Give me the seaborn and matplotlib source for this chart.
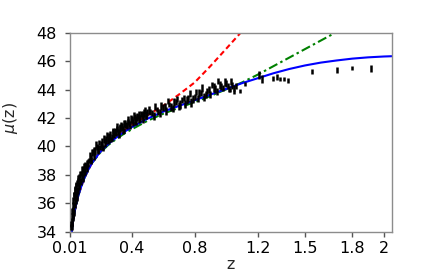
import matplotlib
matplotlib.use("Agg")
import matplotlib.pyplot as plt
import seaborn as sns

# model curves
z_model = [0.01, 0.015, 0.02, 0.03, 0.045, 0.06, 0.08, 0.1, 0.125, 0.15, 0.2, 0.25,
           0.3, 0.35, 0.4, 0.45, 0.5, 0.6, 0.7, 0.8, 0.9, 1.0, 1.1, 1.2, 1.3, 1.4,
           1.5, 1.6, 1.7, 1.8, 1.9, 2.0, 2.05]
mu_blue = [32.5, 33.35, 33.95, 34.85, 35.75, 36.45, 37.15, 37.75, 38.35, 38.85, 39.6, 40.15,
           40.6, 41.0, 41.35, 41.65, 41.95, 42.45, 42.85, 43.25, 43.65, 44.05, 44.45, 44.8,
           45.15, 45.45, 45.7, 45.9, 46.05, 46.18, 46.27, 46.33, 46.35]
mu_green = [32.5, 33.35, 33.95, 34.85, 35.75, 36.45, 37.15, 37.75, 38.35, 38.85, 39.55, 40.08,
            40.5, 40.88, 41.2, 41.5, 41.8, 42.3, 42.72, 43.12, 43.55, 44.02, 44.5, 45.05,
            45.65, 46.25, 46.85, 47.45, 48.05, 48.65, 49.25, 49.85, 50.15]
z_red = [0.01, 0.015, 0.02, 0.03, 0.045, 0.06, 0.08, 0.1, 0.125, 0.15, 0.2, 0.25,
         0.3, 0.35, 0.4, 0.45, 0.5, 0.6, 0.7, 0.8, 0.9, 1.0, 1.1, 1.2]
mu_red = [32.5, 33.35, 33.95, 34.85, 35.75, 36.45, 37.15, 37.75, 38.35, 38.85, 39.62, 40.2,
          40.7, 41.1, 41.5, 41.85, 42.2, 42.85, 43.65, 44.5, 45.65, 46.87, 48.1, 49.4]

# observed points with error bars
z_obs = [0.012, 0.014, 0.016, 0.018, 0.020, 0.022, 0.024, 0.026, 0.028, 0.030, 0.033, 0.036,
         0.039, 0.042, 0.045, 0.048, 0.052, 0.056, 0.060, 0.065, 0.070, 0.075, 0.080, 0.086,
         0.092, 0.098,
         0.017, 0.021, 0.025, 0.029, 0.032, 0.035, 0.038, 0.041, 0.044, 0.047, 0.050, 0.054,
         0.058, 0.063, 0.068, 0.073, 0.078, 0.084, 0.090, 0.096, 0.102,
         0.11, 0.12, 0.13, 0.14, 0.15, 0.16, 0.17, 0.18, 0.19, 0.20, 0.21, 0.22, 0.23, 0.24,
         0.25, 0.26, 0.27, 0.28, 0.29, 0.30, 0.31, 0.32, 0.33, 0.34, 0.35, 0.36, 0.37, 0.38,
         0.39, 0.40, 0.41, 0.42, 0.43, 0.44, 0.45, 0.46, 0.47, 0.48, 0.49, 0.50,
         0.105, 0.115, 0.125, 0.135, 0.145, 0.155, 0.165, 0.175, 0.185, 0.195, 0.205, 0.215,
         0.225, 0.235, 0.245, 0.255, 0.265, 0.275, 0.285, 0.295, 0.305, 0.315, 0.325, 0.335,
         0.345, 0.355, 0.365, 0.375, 0.385, 0.395, 0.405, 0.415, 0.425, 0.435, 0.445, 0.455,
         0.465, 0.475, 0.485, 0.495,
         0.52, 0.54, 0.56, 0.58, 0.60, 0.62, 0.64, 0.66, 0.68, 0.70, 0.72, 0.74, 0.76, 0.78,
         0.80, 0.82, 0.84, 0.86, 0.88, 0.90, 0.92, 0.94, 0.96, 0.98, 1.00, 1.02, 1.04, 1.06,
         0.51, 0.53, 0.55, 0.57, 0.59, 0.61, 0.63, 0.65, 0.67, 0.69, 0.71, 0.73, 0.75, 0.77,
         0.79, 0.81, 0.83, 0.85, 0.87, 0.89, 0.91, 0.93, 0.95, 0.97, 0.99, 1.01, 1.03, 1.05,
         1.025, 1.05, 1.09, 1.12, 1.208, 1.229, 1.30, 1.32, 1.34, 1.37, 1.39,
         1.545, 1.70, 1.80, 1.917]
mu_obs = [33.15, 33.68, 33.67, 34.33, 34.31, 34.71, 34.60, 35.13, 35.09, 35.54, 35.35, 35.90,
          35.89, 36.36, 36.12, 36.53, 36.43, 36.87, 36.89, 37.21, 37.21, 37.55, 37.52, 37.92,
          37.77, 38.11,
          34.55, 35.05, 35.45, 35.85, 36.20, 36.55, 36.60, 36.90, 36.95, 37.20, 37.25, 37.45,
          37.50, 37.75, 37.85, 38.05, 38.10, 38.35, 38.40, 38.60, 38.65,
          38.61, 38.47, 39.01, 39.03, 39.60, 39.25, 39.70, 39.95, 39.80, 39.95, 40.36, 39.87,
          40.23, 40.54, 40.40, 40.69, 40.48, 40.97, 40.81, 41.00, 41.23, 40.86, 41.29, 41.37,
          41.15, 41.57, 41.44, 41.71, 41.53, 41.90, 41.71, 42.06, 41.82, 42.12, 41.93, 42.28,
          41.89, 42.34, 42.10, 42.40,
          38.23, 38.84, 38.85, 39.37, 39.14, 39.63, 39.68, 40.13, 39.83, 40.28, 40.15, 39.97,
          40.53, 40.39, 40.80, 40.55, 40.84, 40.63, 41.07, 41.01, 41.39, 41.02, 41.30, 41.53,
          41.16, 41.59, 41.51, 41.88, 41.60, 41.92, 41.83, 42.18, 41.74, 42.05, 42.25, 41.96,
          42.26, 42.17, 42.52, 42.22,
          42.40, 42.15, 42.60, 42.35, 42.75, 42.50, 42.95, 42.70, 43.15, 42.85, 43.25, 43.00,
          43.35, 43.10, 43.50, 43.35, 43.75, 43.50, 43.90, 43.65, 44.15, 43.85, 44.35, 44.10,
          44.40, 44.05, 44.30, 44.25,
          42.55, 42.34, 42.83, 42.42, 42.86, 42.79, 43.22, 42.80, 43.13, 43.36, 42.94, 43.41,
          43.28, 43.70, 43.32, 43.84, 43.76, 44.13, 43.65, 44.02, 44.33, 44.04, 44.60, 44.21,
          44.52, 44.24, 44.56, 44.13,
          43.95, 43.85, 43.90, 44.40, 45.05, 44.75, 44.80, 44.90, 44.75, 44.75, 44.65,
          45.30, 45.38, 45.52, 45.48]
mu_err = [0.25, 0.18, 0.30, 0.20, 0.22, 0.28, 0.16, 0.24, 0.30, 0.20, 0.26, 0.18,
          0.22, 0.28, 0.20, 0.25, 0.30, 0.18, 0.24, 0.22, 0.28, 0.20, 0.26, 0.18,
          0.30, 0.22,
          0.24, 0.30, 0.20, 0.26, 0.22, 0.28, 0.18, 0.25, 0.30, 0.22, 0.26, 0.20,
          0.28, 0.24, 0.22, 0.26, 0.20, 0.28, 0.24, 0.22, 0.26,
          0.22, 0.30, 0.18, 0.26, 0.24, 0.20, 0.28, 0.22, 0.30, 0.18, 0.25, 0.22, 0.28, 0.20,
          0.26, 0.24, 0.18, 0.30, 0.22, 0.25, 0.20, 0.28, 0.22, 0.26, 0.18, 0.30, 0.24, 0.20,
          0.28, 0.22, 0.25, 0.20, 0.30, 0.18, 0.26, 0.24, 0.22, 0.28, 0.20, 0.25,
          0.26, 0.20, 0.30, 0.22, 0.28, 0.18, 0.25, 0.24, 0.30, 0.20, 0.26, 0.22, 0.28, 0.24,
          0.20, 0.30, 0.22, 0.26, 0.18, 0.28, 0.24, 0.20, 0.30, 0.22, 0.26, 0.25, 0.18, 0.28,
          0.22, 0.30, 0.20, 0.26, 0.24, 0.28, 0.22, 0.25, 0.20, 0.30, 0.24, 0.28,
          0.22, 0.28, 0.20, 0.26, 0.24, 0.30, 0.18, 0.25, 0.22, 0.28, 0.20, 0.26, 0.24, 0.30,
          0.22, 0.25, 0.20, 0.28, 0.22, 0.26, 0.30, 0.24, 0.28, 0.22, 0.25, 0.20, 0.26, 0.22,
          0.28, 0.22, 0.26, 0.20, 0.30, 0.24, 0.22, 0.28, 0.25, 0.20, 0.30, 0.22, 0.26, 0.24,
          0.28, 0.20, 0.25, 0.30, 0.22, 0.26, 0.24, 0.28, 0.20, 0.25, 0.30, 0.22, 0.26, 0.20,
          0.15, 0.15, 0.16, 0.15, 0.28, 0.25, 0.18, 0.20, 0.15, 0.15, 0.20,
          0.18, 0.20, 0.15, 0.22]

x_ticks = [0.01, 0.4, 0.8, 1.2, 1.5, 1.8, 2]
x_tick_labels = ["0.01", "0.4", "0.8", "1.2", "1.5", "1.8", "2"]
y_ticks = [34, 36, 38, 40, 42, 44, 46, 48]


def configure_style() -> None:
    sns.set_theme(style="ticks")
    plt.rcParams["font.family"] = "DejaVu Sans"
    plt.rcParams["axes.edgecolor"] = "#8c8c8c"
    plt.rcParams["xtick.color"] = "#555555"
    plt.rcParams["ytick.color"] = "#555555"
    plt.rcParams["xtick.labelcolor"] = "black"
    plt.rcParams["ytick.labelcolor"] = "black"


configure_style()
fig = plt.figure(figsize=(4.36, 2.73), dpi=100)
ax = fig.add_axes([0.1606, 0.151, 0.7378, 0.729])

sns.lineplot(x=z_red, y=mu_red, color="red", linewidth=1.5, ax=ax, sort=False)
ax.lines[-1].set_dashes([2.6, 1.6])
sns.lineplot(x=z_model, y=mu_green, color="green", linewidth=1.5, ax=ax, sort=False)
ax.lines[-1].set_dashes([4.5, 1.6, 1.2, 1.6])
sns.lineplot(x=z_model, y=mu_blue, color="blue", linewidth=1.5, ax=ax, sort=False)

ax.errorbar(z_obs, mu_obs, yerr=mu_err, fmt="none", ecolor="black",
            elinewidth=1.8, capsize=0, zorder=3)

ax.set_xlim(0.01, 2.05)
ax.set_ylim(34, 48)
ax.set_xticks(x_ticks)
ax.set_xticklabels(x_tick_labels)
ax.set_yticks(y_ticks)
ax.tick_params(labelsize=11.5, length=3.5, width=1.0)
ax.tick_params(axis="x", pad=3)
ax.tick_params(axis="y", pad=6)
ax.set_xlabel("z", fontsize=11.5, labelpad=1)
ax.set_ylabel(r"$\mu$(z)", fontsize=11.5)
ax.yaxis.set_label_coords(-0.155, 0.57)
for spine in ax.spines.values():
    spine.set_linewidth(1.0)

fig.savefig("out.png", dpi=100)
plt.close(fig)
